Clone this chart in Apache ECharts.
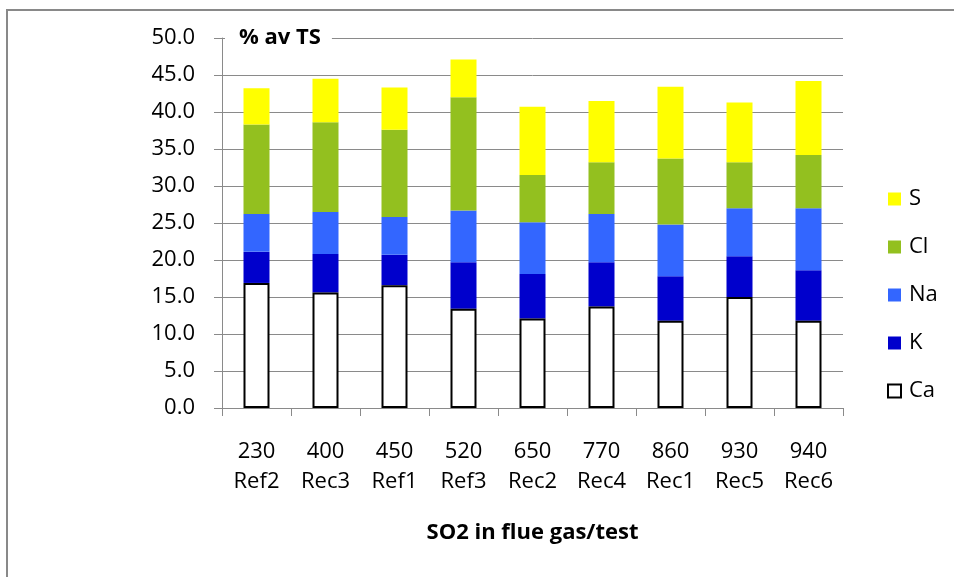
<!DOCTYPE html>
<html>
<head>
<meta charset="utf-8">
<script src="https://cdn.jsdelivr.net/npm/echarts@6/dist/echarts.min.js"></script>
<style>
  html, body { margin: 0; padding: 0; background: #fff; }
  #chart { width: 954px; height: 577px; }
</style>
</head>
<body>
<div id="chart"></div>
<script>
// SO2 level in flue gas and test name for each bar
const so2Levels = ['230', '400', '450', '520', '650', '770', '860', '930', '940'];
const testNames = ['Ref2', 'Rec3', 'Ref1', 'Ref3', 'Rec2', 'Rec4', 'Rec1', 'Rec5', 'Rec6'];

// Element shares, % of total solids (stacked bottom to top: Ca, K, Na, Cl, S)
const caValues = [16.9, 15.6, 16.6, 13.4, 12.1, 13.7, 11.8, 15.0, 11.8];
const kValues  = [4.2, 5.2, 4.1, 6.3, 6.0, 6.0, 6.0, 5.5, 6.8];
const naValues = [5.1, 5.7, 5.1, 7.0, 7.0, 6.5, 7.0, 6.5, 8.4];
const clValues = [12.1, 12.1, 11.8, 15.3, 6.4, 7.0, 8.9, 6.2, 7.2];
const sValues  = [4.9, 5.9, 5.7, 5.1, 9.2, 8.3, 9.7, 8.1, 10.0];

// y-axis ticks
const yMin = 0, yMax = 50, yStep = 5;

const categories = so2Levels.map((v, i) => v + '\n' + testNames[i]);

const FONT = '"Open Sans", "DejaVu Sans", sans-serif';
const GRID_GRAY = '#8a8a8a';

const chart = echarts.init(document.getElementById('chart'), null, { renderer: 'canvas' });

function stackBar(name, data, itemStyle, z) {
  return {
    name: name,
    type: 'bar',
    stack: 'total',
    data: data,
    barWidth: 26,
    itemStyle: itemStyle,
    z: z || 2,
    emphasis: { disabled: true },
    animation: false
  };
}

chart.setOption({
  animation: false,
  backgroundColor: '#ffffff',
  textStyle: { fontFamily: FONT, color: '#000' },
  graphic: [{
    type: 'rect',
    shape: { x: 7, y: 10, width: 1000, height: 1000 },
    style: { fill: 'none', stroke: '#898989', lineWidth: 2 },
    silent: true,
    z: -10
  }],
  title: {
    text: '% av TS',
    left: 225,
    top: 24,
    padding: [3, 11, 3, 14],
    backgroundColor: '#ffffff',
    textStyle: { fontFamily: FONT, fontSize: 22, fontWeight: 'bold', color: '#000', lineHeight: 22 }
  },
  legend: {
    orient: 'vertical',
    left: 887,
    top: 188,
    padding: 0,
    itemWidth: 13,
    itemHeight: 13,
    itemGap: 26,
    icon: 'rect',
    selectedMode: false,
    textStyle: { fontFamily: FONT, fontSize: 22, color: '#000', lineHeight: 22, padding: [0, 0, 0, 3] },
    data: [
      { name: 'S' },
      { name: 'Cl' },
      { name: 'Na' },
      { name: 'K' },
      { name: 'Ca', itemStyle: { color: '#ffffff', borderColor: '#000000', borderWidth: 2 } }
    ]
  },
  grid: { left: 222, right: 111, top: 38, bottom: 169, containLabel: false },
  xAxis: {
    type: 'category',
    data: categories,
    name: 'SO2 in flue gas/test',
    nameLocation: 'middle',
    nameGap: 110,
    nameTextStyle: { fontFamily: FONT, fontSize: 22, fontWeight: 'bold', color: '#000', lineHeight: 30 },
    axisLine: { lineStyle: { color: GRID_GRAY, width: 1 } },
    axisTick: { show: true, length: 8, lineStyle: { color: GRID_GRAY } },
    axisLabel: { fontFamily: FONT, fontSize: 22, color: '#000', lineHeight: 30, margin: 29, interval: 0 },
    splitLine: { show: false }
  },
  yAxis: {
    type: 'value',
    min: yMin,
    max: yMax,
    interval: yStep,
    axisLine: { show: true, lineStyle: { color: GRID_GRAY, width: 1 } },
    axisTick: { show: true, length: 8, lineStyle: { color: GRID_GRAY } },
    axisLabel: {
      fontFamily: FONT, fontSize: 22, color: '#000', margin: 27,
      formatter: v => v.toFixed(1)
    },
    splitLine: { show: true, lineStyle: { color: GRID_GRAY, width: 1 } }
  },
  series: [
    stackBar('Ca', caValues, { color: '#ffffff', borderColor: '#000000', borderWidth: 2 }, 3),
    stackBar('K', kValues, { color: '#0000CC' }),
    stackBar('Na', naValues, { color: '#3366FF' }),
    stackBar('Cl', clValues, { color: '#93C01F' }),
    stackBar('S', sValues, { color: '#FFFF00' })
  ]
});
</script>
</body>
</html>
